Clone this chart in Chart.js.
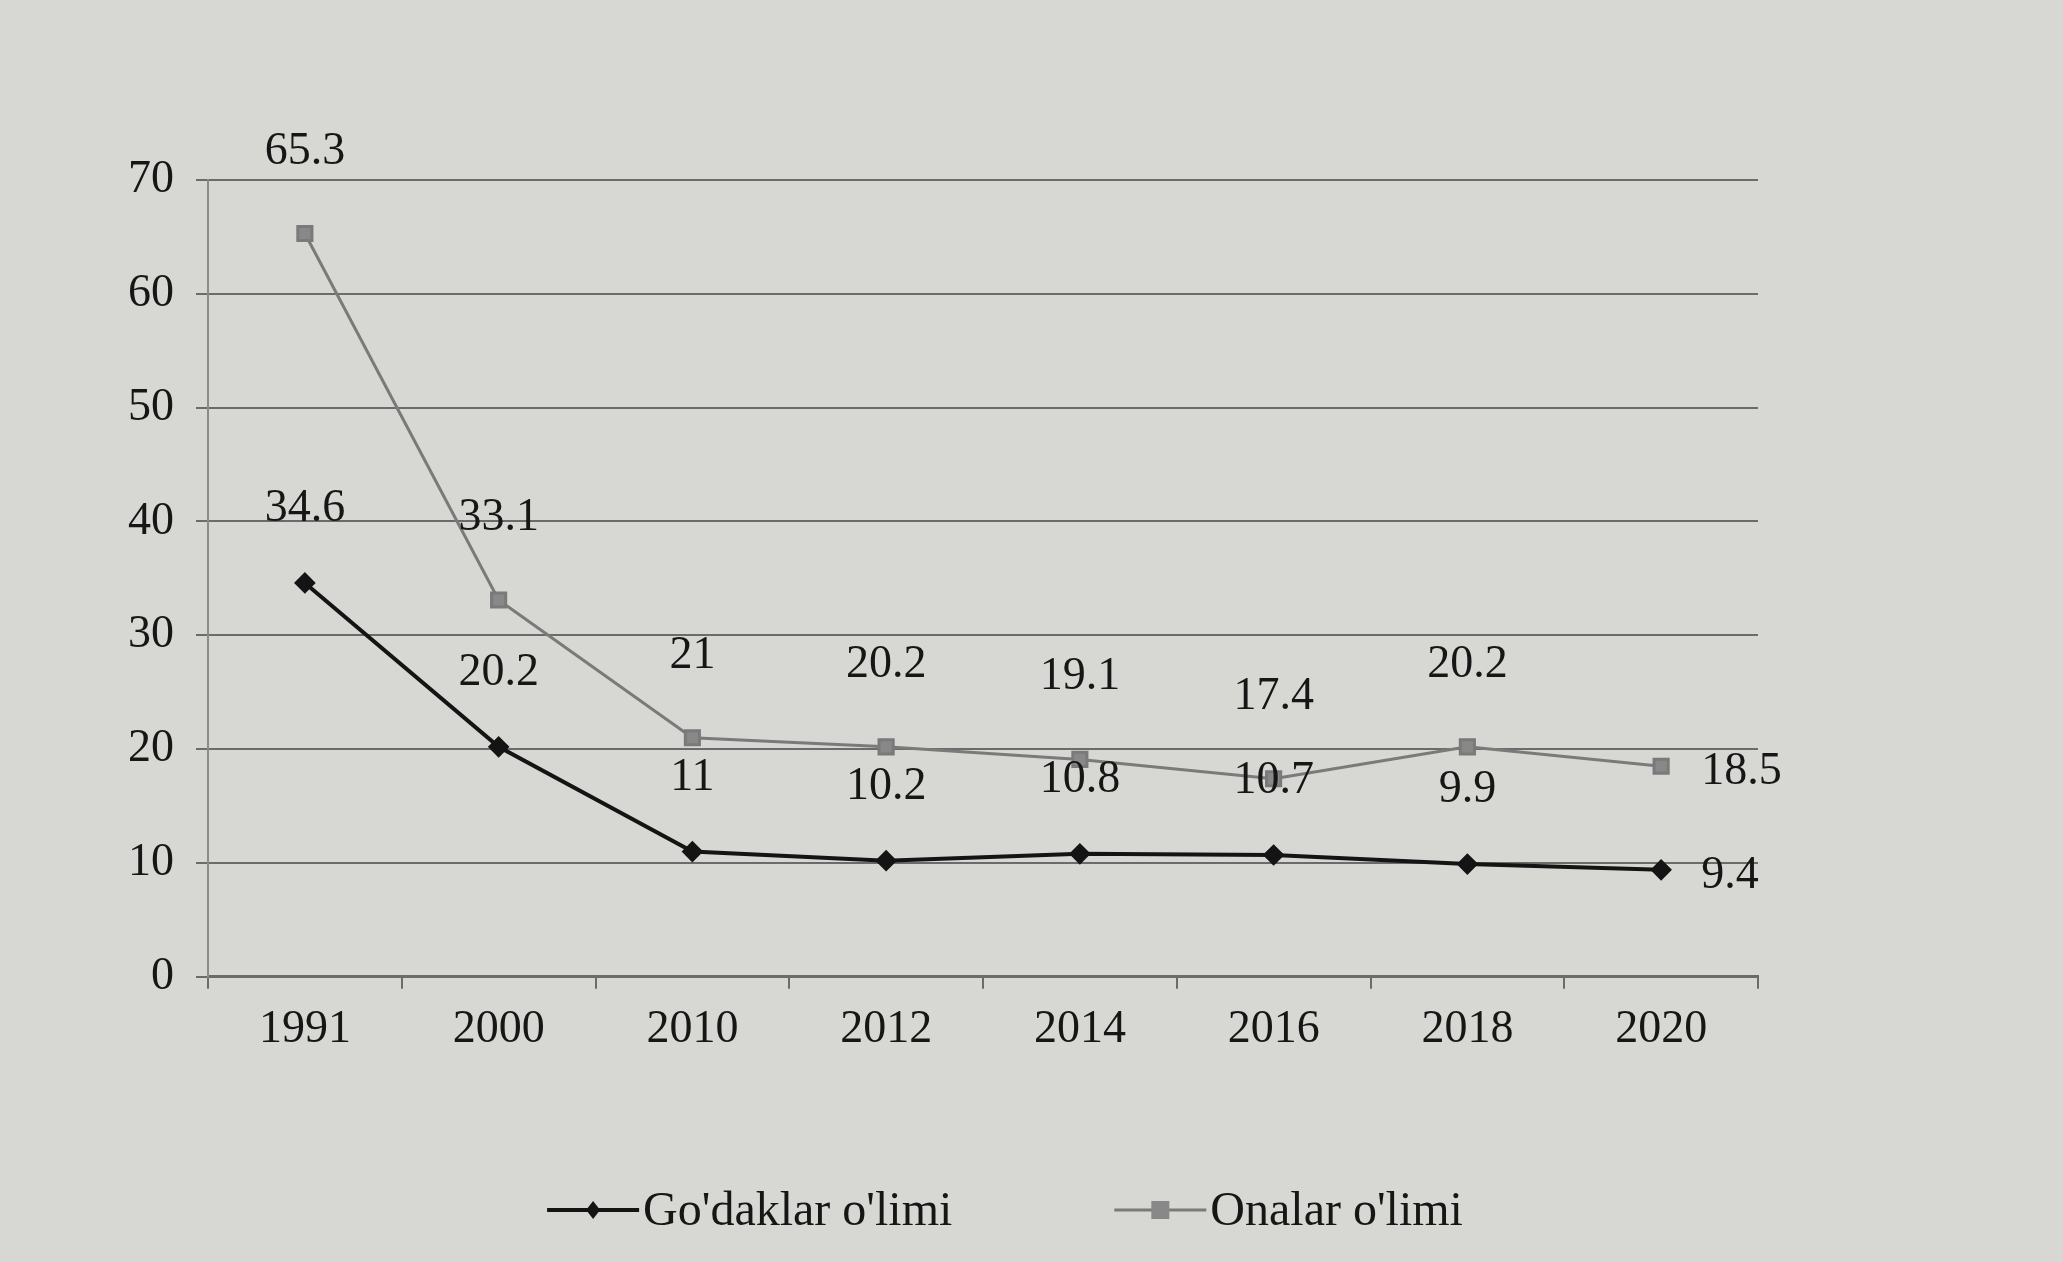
<!DOCTYPE html>
<html>
<head>
<meta charset="utf-8">
<script src="https://cdn.jsdelivr.net/npm/chart.js@4/dist/chart.umd.min.js"></script>
<style>
  html, body { margin: 0; padding: 0; background: #d7d7d3; }
  #wrap { width: 2063px; height: 1262px; }
</style>
</head>
<body>
<div id="wrap"><canvas id="myChart" width="2063" height="1262"></canvas></div>
<script>
// years on the x axis
var years = ['1991', '2000', '2010', '2012', '2014', '2016', '2018', '2020'];
// Go'daklar o'limi (infant deaths)
var infantValues = [34.6, 20.2, 11, 10.2, 10.8, 10.7, 9.9, 9.4];
// Onalar o'limi (maternal deaths)
var maternalValues = [65.3, 33.1, 21, 20.2, 19.1, 17.4, 20.2, 18.5];
var seriesNames = ["Go'daklar o'limi", "Onalar o'limi"];

var serif = "'Liberation Serif', 'DejaVu Serif', serif";
var gridColor = '#6b6b6b';
var textColor = '#161616';

// value labels: above each point, last one to the right
var valueLabels = {
    id: 'valueLabels',
    afterDatasetsDraw: function (chart) {
        var ctx = chart.ctx;
        ctx.save();
        ctx.font = '46px ' + serif;
        ctx.fillStyle = textColor;
        chart.data.datasets.forEach(function (ds, i) {
            var meta = chart.getDatasetMeta(i);
            meta.data.forEach(function (pt, j) {
                var txt = String(ds.data[j]);
                ctx.textBaseline = 'middle';
                if (j === ds.data.length - 1) {
                    ctx.textAlign = 'left';
                    ctx.fillText(txt, pt.x + 40, pt.y + 6);
                } else {
                    ctx.textAlign = 'center';
                    ctx.fillText(txt, pt.x, pt.y - ds.labelOffset);
                }
            });
        });
        ctx.restore();
    }
};

// legend drawn under the chart: short line with marker, then the name
var lineLegend = {
    id: 'lineLegend',
    afterDraw: function (chart) {
        var ctx = chart.ctx;
        ctx.save();
        ctx.font = '48px ' + serif;
        var segW = 92, gap = 4, itemGap = 162;
        var widths = chart.data.datasets.map(function (ds) {
            return segW + gap + ctx.measureText(ds.label).width;
        });
        var total = widths.reduce(function (a, b) { return a + b; }, 0) + itemGap * (widths.length - 1);
        var x = (chart.chartArea.left + chart.chartArea.right) / 2 - total / 2 + 22;
        var y = chart.height - 52;
        chart.data.datasets.forEach(function (ds, i) {
            ctx.strokeStyle = ds.borderColor;
            ctx.lineWidth = ds.borderWidth;
            ctx.beginPath();
            ctx.moveTo(x, y);
            ctx.lineTo(x + segW, y);
            ctx.stroke();
            ctx.fillStyle = ds.pointBackgroundColor;
            var cx = x + segW / 2;
            if (ds.pointStyle === 'rect') {
                ctx.fillRect(cx - 9, y - 9, 18, 18);
            } else {
                ctx.beginPath();
                ctx.moveTo(cx, y - 9);
                ctx.lineTo(cx + 7, y);
                ctx.lineTo(cx, y + 9);
                ctx.lineTo(cx - 7, y);
                ctx.closePath();
                ctx.fill();
            }
            ctx.fillStyle = textColor;
            ctx.textAlign = 'left';
            ctx.textBaseline = 'middle';
            ctx.fillText(ds.label, x + segW + gap, y + 2);
            x += widths[i] + itemGap;
        });
        ctx.restore();
    }
};

var ctx = document.getElementById('myChart');
window.myLine = new Chart(ctx, {
    type: 'line',
    data: {
        labels: years,
        datasets: [
            {
                label: seriesNames[0],
                data: infantValues,
                borderColor: '#141414',
                backgroundColor: '#141414',
                pointBackgroundColor: '#141414',
                borderWidth: 4,
                pointStyle: 'rectRot',
                pointRadius: 8,
                tension: 0,
                labelOffset: 74
            },
            {
                label: seriesNames[1],
                data: maternalValues,
                borderColor: '#7a7a7a',
                backgroundColor: '#888888',
                pointBackgroundColor: '#888888',
                pointBorderColor: '#7a7a7a',
                borderWidth: 3,
                pointStyle: 'rect',
                pointRadius: 10,
                tension: 0,
                labelOffset: 82
            }
        ]
    },
    options: {
        responsive: false,
        animation: false,
        layout: { padding: { top: 180, left: 106, right: 305, bottom: 190 } },
        plugins: {
            legend: { display: false },
            tooltip: { enabled: false }
        },
        scales: {
            x: {
                offset: true,
                grid: {
                    offset: true,
                    drawOnChartArea: false,
                    drawTicks: true,
                    tickLength: 12,
                    color: gridColor,
                    lineWidth: 2
                },
                border: { display: true, color: gridColor, width: 3 },
                ticks: {
                    color: textColor,
                    font: { family: serif, size: 46 },
                    padding: 14
                }
            },
            y: {
                min: 0,
                max: 70,
                ticks: {
                    stepSize: 10,
                    color: textColor,
                    font: { family: serif, size: 46 },
                    padding: 22
                },
                grid: {
                    color: gridColor,
                    lineWidth: 2,
                    drawTicks: true,
                    tickLength: 12
                },
                border: { display: true, color: '#8a8a8a', width: 2 }
            }
        }
    },
    plugins: [valueLabels, lineLegend]
});
</script>
</body>
</html>
